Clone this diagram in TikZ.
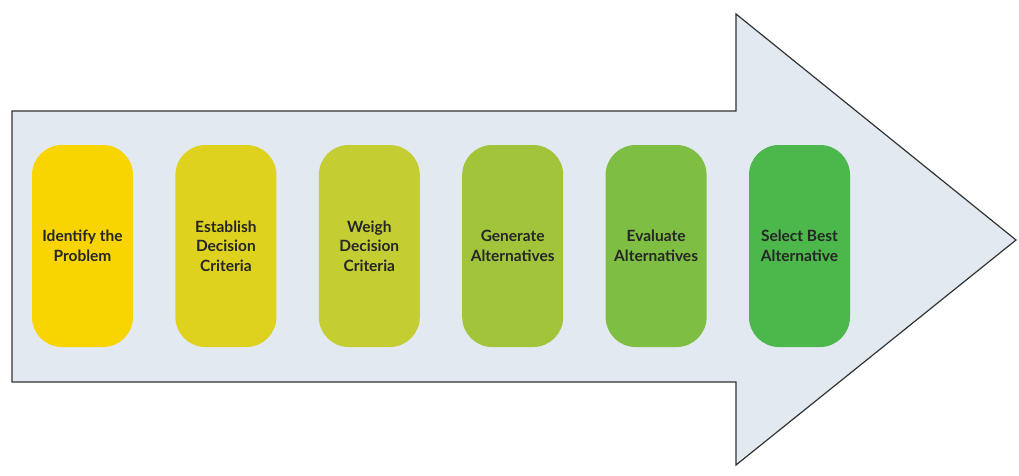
\documentclass[tikz,border=0pt]{standalone}
\usepackage{fontspec}
\setmainfont{Lato}
\usepackage{tikz}
\usepackage{xcolor}
\usetikzlibrary{positioning}

\definecolor{shaftfill}{HTML}{E2E9F1}
\definecolor{stageA}{HTML}{F8D500}
\definecolor{stageB}{HTML}{DFD21E}
\definecolor{stageC}{HTML}{C4CE32}
\definecolor{stageD}{HTML}{A2C43B}
\definecolor{stageE}{HTML}{7DBE43}
\definecolor{stageF}{HTML}{4CB74A}

\begin{document}
\begin{tikzpicture}[
    x=1pt, y=-1pt,
    node distance=143.4pt,
    stage/.style={rectangle, rounded corners=30pt, minimum width=101pt, minimum height=202pt,
        align=center, inner sep=0pt, font=\fontsize{15.5}{19.5}\selectfont\bfseries, text=black!85},
    outline/.style={draw=black!80, line width=1.2pt, fill=shaftfill}
]
    \useasboundingbox (0,0) rectangle (1019,476);

    % Big arrow
    \draw[outline] (12,111) -- (736,111) -- (736,14) -- (1016,240) -- (736,465)
        -- (736,382) -- (12,382) -- cycle;

    % Place nodes
    \node[stage, fill=stageA] (identify) at (82.5,246) {Identify the\\Problem};
    \node[stage, fill=stageB, right of=identify] (establish) {Establish\\Decision\\Criteria};
    \node[stage, fill=stageC, right of=establish] (weigh) {Weigh\\Decision\\Criteria};
    \node[stage, fill=stageD, right of=weigh] (generate) {Generate\\Alternatives};
    \node[stage, fill=stageE, right of=generate] (evaluate) {Evaluate\\Alternatives};
    \node[stage, fill=stageF, right of=evaluate] (select) {Select Best\\Alternative};
\end{tikzpicture}
\end{document}
